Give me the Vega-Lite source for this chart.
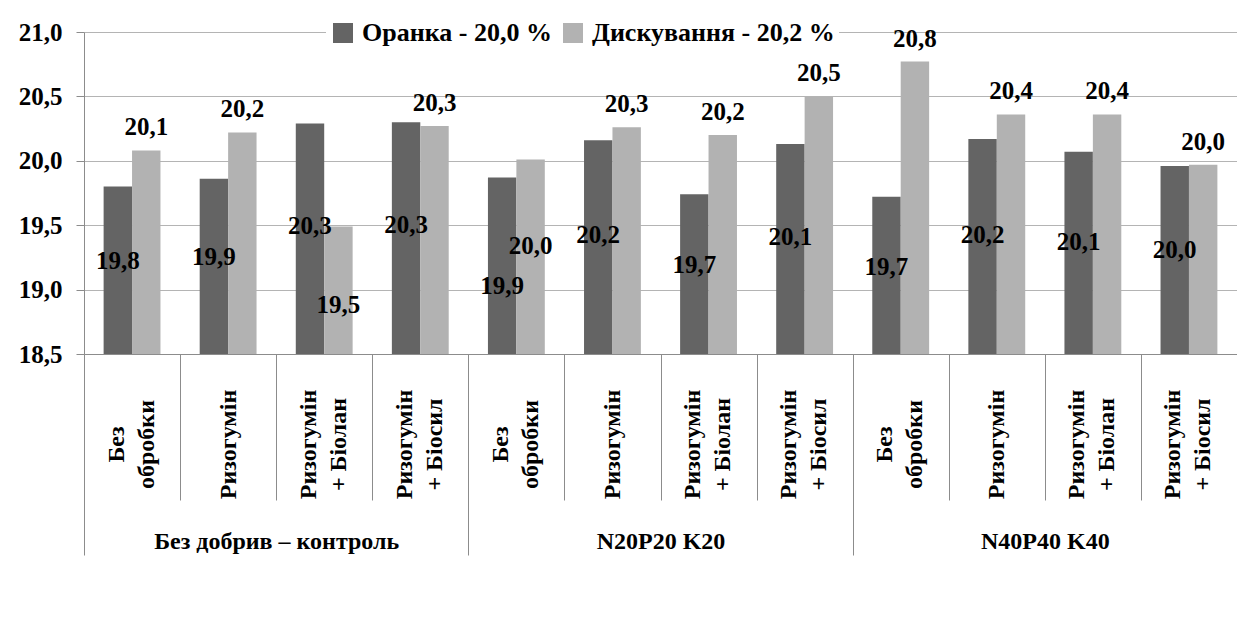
{
  "$schema": "https://vega.github.io/schema/vega-lite/v6.json",
  "width": 1153,
  "height": 322,
  "autosize": {"type": "none"},
  "padding": {"left": 84, "top": 32, "right": 0, "bottom": 287},
  "background": "white",
  "config": {
    "font": "Liberation Serif",
    "locale": {"number": {"decimal": ",", "thousands": " ", "grouping": [3], "currency": ["", ""]}},
    "view": {"stroke": null},
    "text": {"font": "Liberation Serif"}
  },
  "data": {
    "values": [
      {"group": "Без добрив – контроль", "treatment": "Без обробки", "series": "Оранка - 20,0 %", "value": 19.80},
      {"group": "Без добрив – контроль", "treatment": "Без обробки", "series": "Дискування - 20,2 %", "value": 20.08},
      {"group": "Без добрив – контроль", "treatment": "Ризогумін", "series": "Оранка - 20,0 %", "value": 19.86},
      {"group": "Без добрив – контроль", "treatment": "Ризогумін", "series": "Дискування - 20,2 %", "value": 20.22},
      {"group": "Без добрив – контроль", "treatment": "Ризогумін + Біолан", "series": "Оранка - 20,0 %", "value": 20.29},
      {"group": "Без добрив – контроль", "treatment": "Ризогумін + Біолан", "series": "Дискування - 20,2 %", "value": 19.49},
      {"group": "Без добрив – контроль", "treatment": "Ризогумін + Біосил", "series": "Оранка - 20,0 %", "value": 20.30},
      {"group": "Без добрив – контроль", "treatment": "Ризогумін + Біосил", "series": "Дискування - 20,2 %", "value": 20.27},
      {"group": "N20P20 K20", "treatment": "Без обробки", "series": "Оранка - 20,0 %", "value": 19.87},
      {"group": "N20P20 K20", "treatment": "Без обробки", "series": "Дискування - 20,2 %", "value": 20.01},
      {"group": "N20P20 K20", "treatment": "Ризогумін", "series": "Оранка - 20,0 %", "value": 20.16},
      {"group": "N20P20 K20", "treatment": "Ризогумін", "series": "Дискування - 20,2 %", "value": 20.26},
      {"group": "N20P20 K20", "treatment": "Ризогумін + Біолан", "series": "Оранка - 20,0 %", "value": 19.74},
      {"group": "N20P20 K20", "treatment": "Ризогумін + Біолан", "series": "Дискування - 20,2 %", "value": 20.20},
      {"group": "N20P20 K20", "treatment": "Ризогумін + Біосил", "series": "Оранка - 20,0 %", "value": 20.13},
      {"group": "N20P20 K20", "treatment": "Ризогумін + Біосил", "series": "Дискування - 20,2 %", "value": 20.50},
      {"group": "N40P40 K40", "treatment": "Без обробки", "series": "Оранка - 20,0 %", "value": 19.72},
      {"group": "N40P40 K40", "treatment": "Без обробки", "series": "Дискування - 20,2 %", "value": 20.77},
      {"group": "N40P40 K40", "treatment": "Ризогумін", "series": "Оранка - 20,0 %", "value": 20.17},
      {"group": "N40P40 K40", "treatment": "Ризогумін", "series": "Дискування - 20,2 %", "value": 20.36},
      {"group": "N40P40 K40", "treatment": "Ризогумін + Біолан", "series": "Оранка - 20,0 %", "value": 20.07},
      {"group": "N40P40 K40", "treatment": "Ризогумін + Біолан", "series": "Дискування - 20,2 %", "value": 20.36},
      {"group": "N40P40 K40", "treatment": "Ризогумін + Біосил", "series": "Оранка - 20,0 %", "value": 19.96},
      {"group": "N40P40 K40", "treatment": "Ризогумін + Біосил", "series": "Дискування - 20,2 %", "value": 19.97}
    ]
  },
  "transform": [{"calculate": "datum.group + '|' + datum.treatment", "as": "cat"}],
  "layer": [
    {
      "mark": {"type": "bar"},
      "encoding": {
        "x": {
          "field": "cat", "type": "nominal", "sort": null,
          "scale": {"paddingInner": 0, "paddingOuter": 0},
          "axis": {
            "title": null,
            "labelExpr": "split(datum.label,'|')[1] == 'Без обробки' ? 'Без' : (split(datum.label,'|')[1] == 'Ризогумін + Біолан' || split(datum.label,'|')[1] == 'Ризогумін + Біосил') ? 'Ризогумін' : ''",
            "labelAngle": -90, "labelAlign": "center", "labelBaseline": "middle", "labelOffset": -16,
            "labelPadding": -56, "labelFontSize": 24, "labelFontWeight": "bold",
            "labelFont": "Liberation Serif", "labelColor": "black", "labelOverlap": false,
            "labelLimit": 400,
            "tickBand": "extent", "tickSize": 146, "tickColor": "#8c8c8c",
            "domainColor": "#8c8c8c", "grid": false
          }
        },
        "xOffset": {"field": "series", "type": "nominal", "sort": null, "scale": {"paddingInner": 0, "paddingOuter": 0.69}},
        "y": {
          "field": "value", "type": "quantitative",
          "scale": {"domain": [18.5, 21], "zero": false, "nice": false},
          "axis": {
            "title": null, "values": [18.5, 19, 19.5, 20, 20.5, 21], "format": ".1f",
            "tickSize": 8, "labelPadding": 14, "tickColor": "#8c8c8c", "domainColor": "#8c8c8c",
            "gridColor": "#b4b4b4", "grid": true,
            "labelFontSize": 25, "labelFontWeight": "bold", "labelFont": "Liberation Serif", "labelColor": "black"
          }
        },
        "y2": {"datum": 18.5},
        "color": {
          "field": "series", "type": "nominal", "sort": null,
          "scale": {"range": ["#646464", "#b2b2b2"]},
          "legend": {
            "orient": "none", "legendX": 242, "legendY": -16, "direction": "horizontal",
            "title": null, "fillColor": "white", "padding": 4,
            "labelFontSize": 26, "labelFontWeight": "bold", "labelFont": "Liberation Serif", "labelColor": "black",
            "symbolType": "square", "symbolSize": 400, "symbolStrokeWidth": 0,
            "columnPadding": 8, "labelLimit": 400, "labelOffset": 6
          }
        }
      }
    },
    {
      "mark": {"type": "text", "text": ""},
      "encoding": {
        "x": {
          "field": "cat", "type": "nominal", "sort": null,
          "scale": {"paddingInner": 0, "paddingOuter": 0},
          "axis": {
            "orient": "bottom", "title": null,
            "labelExpr": "split(datum.label,'|')[1] == 'Без обробки' ? 'обробки' : split(datum.label,'|')[1] == 'Ризогумін + Біолан' ? '+ Біолан' : split(datum.label,'|')[1] == 'Ризогумін + Біосил' ? '+ Біосил' : ''",
            "labelAngle": -90, "labelAlign": "center", "labelBaseline": "middle", "labelOffset": 14,
            "labelPadding": 90, "labelFontSize": 24, "labelFontWeight": "bold",
            "labelFont": "Liberation Serif", "labelColor": "black", "labelOverlap": false,
            "labelLimit": 400, "ticks": false, "domain": false, "grid": false
          }
        }
      }
    },
    {
      "mark": {"type": "text", "text": ""},
      "encoding": {
        "x": {
          "field": "cat", "type": "nominal", "sort": null,
          "scale": {"paddingInner": 0, "paddingOuter": 0},
          "axis": {
            "orient": "bottom", "title": null,
            "labelExpr": "split(datum.label,'|')[1] == 'Ризогумін' ? 'Ризогумін' : ''",
            "labelAngle": -90, "labelAlign": "center", "labelBaseline": "middle", "labelOffset": 0,
            "labelPadding": 90, "labelFontSize": 24, "labelFontWeight": "bold",
            "labelFont": "Liberation Serif", "labelColor": "black", "labelOverlap": false,
            "labelLimit": 400, "ticks": false, "domain": false, "grid": false
          }
        }
      }
    },
    {
      "mark": {"type": "text", "fontSize": 25, "fontWeight": "bold", "font": "Liberation Serif", "color": "black", "baseline": "middle"},
      "encoding": {
        "x": {"field": "cat", "type": "nominal", "sort": null, "scale": {"paddingInner": 0, "paddingOuter": 0}, "axis": null},
        "xOffset": {"field": "series", "type": "nominal", "sort": null, "scale": {"paddingInner": 0, "paddingOuter": 0.69}},
        "y": {"field": "value", "type": "quantitative", "scale": {"domain": [18.5, 23.0], "zero": false, "nice": false}, "axis": null},
        "text": {
          "condition": {"test": "(datum.series == 'Оранка - 20,0 %') != (datum.group == 'N20P20 K20' && datum.treatment == 'Без обробки')", "field": "value", "type": "quantitative", "format": ".1f"},
          "value": ""
        }
      }
    },
    {
      "mark": {"type": "text", "fontSize": 25, "fontWeight": "bold", "font": "Liberation Serif", "color": "black", "baseline": "middle"},
      "encoding": {
        "x": {"field": "cat", "type": "nominal", "sort": null, "scale": {"paddingInner": 0, "paddingOuter": 0}, "axis": null},
        "xOffset": {"field": "series", "type": "nominal", "sort": null, "scale": {"paddingInner": 0, "paddingOuter": 0.69}},
        "y": {"field": "value", "type": "quantitative", "scale": {"domain": [18.5, 25.0], "zero": false, "nice": false}, "axis": null},
        "text": {
          "condition": {"test": "(datum.series == 'Оранка - 20,0 %' && datum.group == 'N20P20 K20' && datum.treatment == 'Без обробки') || (datum.series != 'Оранка - 20,0 %' && datum.value < 19.6)", "field": "value", "type": "quantitative", "format": ".1f"},
          "value": ""
        }
      }
    },
    {
      "mark": {"type": "text", "fontSize": 25, "fontWeight": "bold", "font": "Liberation Serif", "color": "black", "baseline": "middle", "dy": -23},
      "encoding": {
        "x": {"field": "cat", "type": "nominal", "sort": null, "scale": {"paddingInner": 0, "paddingOuter": 0}, "axis": null},
        "xOffset": {"field": "series", "type": "nominal", "sort": null, "scale": {"paddingInner": 0, "paddingOuter": 0.69}},
        "y": {"field": "value", "type": "quantitative", "scale": {"domain": [18.5, 21], "zero": false, "nice": false}, "axis": null},
        "text": {
          "condition": {"test": "datum.series != 'Оранка - 20,0 %' && datum.value >= 19.6 && !(datum.group == 'N20P20 K20' && datum.treatment == 'Без обробки')", "field": "value", "type": "quantitative", "format": ".1f"},
          "value": ""
        }
      }
    },
    {
      "mark": {"type": "text", "text": ""},
      "encoding": {
        "x": {
          "field": "group", "type": "nominal", "sort": null,
          "scale": {"paddingInner": 0, "paddingOuter": 0},
          "axis": {
            "orient": "bottom", "title": null, "labelAngle": 0, "labelAlign": "center", "labelBaseline": "middle",
            "tickBand": "extent", "tickSize": 201, "tickColor": "#8c8c8c", "labelPadding": -14,
            "domain": false, "grid": false, "labelLimit": 500,
            "labelFontSize": 24, "labelFontWeight": "bold", "labelFont": "Liberation Serif", "labelColor": "black"
          }
        }
      }
    }
  ],
  "resolve": {"scale": {"x": "independent", "y": "independent"}, "axis": {"x": "independent", "y": "independent"}}
}
